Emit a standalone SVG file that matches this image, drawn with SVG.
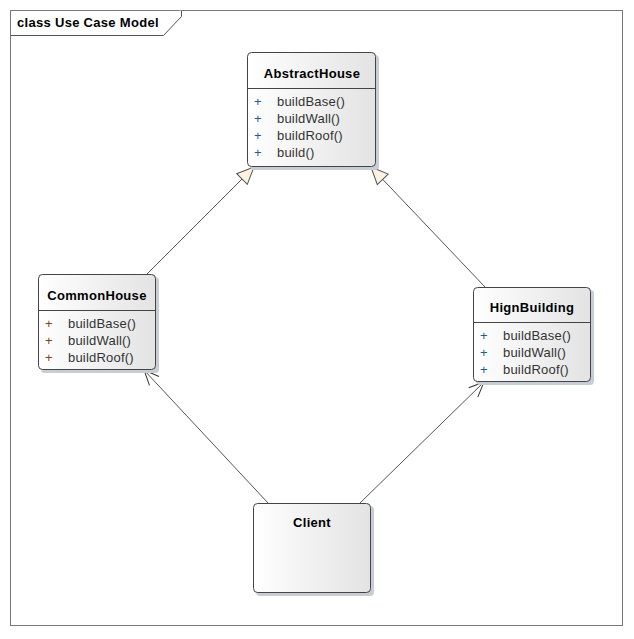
<svg xmlns="http://www.w3.org/2000/svg" width="634" height="639" viewBox="0 0 634 639">
<style>
text{font-family:"Liberation Sans",Arial,sans-serif;font-size:13px;fill:#000;letter-spacing:0.2px}
.t{font-weight:bold;text-anchor:middle;letter-spacing:0.3px}
.p{fill:#1f5a99}
.pb{fill:#8a3b12}
.op{fill:#333}
.box{fill:url(#g);stroke:#444;stroke-width:1}
.sh{fill:#c8ccd4}
.sep{stroke:#444;stroke-width:1}
.c{stroke:#555;stroke-width:1;fill:none}
</style>
<defs>
<linearGradient id="g" x1="0" y1="0" x2="1" y2="0">
<stop offset="0" stop-color="#ffffff"/>
<stop offset="1" stop-color="#e3e3e3"/>
</linearGradient>
<marker id="gen" markerUnits="userSpaceOnUse" markerWidth="40" markerHeight="40" viewBox="-20 -20 40 40" refX="0" refY="0" orient="auto">
<path d="M0,0 L-17,-7.5 L-17,7.5 Z" fill="#fdf3e2" stroke="#555" stroke-width="1"/>
</marker>
<marker id="open" markerUnits="userSpaceOnUse" markerWidth="40" markerHeight="40" viewBox="-20 -20 40 40" refX="0" refY="0" orient="auto">
<path d="M-15,-6.5 L0,0 L-15,6.5" fill="none" stroke="#333" stroke-width="1"/>
</marker>
</defs>
<g id="frame">
<rect x="10.5" y="10.5" width="612" height="615" fill="#fff" stroke="#777"/>
<path d="M10.5,35.5 H163.5 L181.5,16.5 V10.5" fill="#fff" stroke="#555"/>
<text x="17" y="27" style="font-weight:bold;letter-spacing:0.3px">class Use Case Model</text>
</g>
<g id="connectors">
<line class="c" x1="147" y1="274" x2="254" y2="167" marker-end="url(#gen)"/>
<line class="c" x1="485" y1="287" x2="371" y2="167" marker-end="url(#gen)"/>
<line class="c" x1="268" y1="503" x2="144" y2="370" marker-end="url(#open)"/>
<line class="c" x1="360" y1="503" x2="484" y2="382" marker-end="url(#open)"/>
</g>
<g id="AbstractHouse">
<rect class="sh" x="250" y="55" width="129" height="115" rx="4"/>
<rect class="box" x="247.5" y="52.5" width="128" height="114" rx="4"/>
<line class="sep" x1="247.5" y1="88.5" x2="375.5" y2="88.5"/>
<text class="t" x="312" y="78">AbstractHouse</text>
<text class="p" x="254" y="106">+</text><text class="op" x="277" y="106">buildBase()</text>
<text class="p" x="254" y="123">+</text><text class="op" x="277" y="123">buildWall()</text>
<text class="p" x="254" y="140">+</text><text class="op" x="277" y="140">buildRoof()</text>
<text class="p" x="254" y="157">+</text><text class="op" x="277" y="157">build()</text>
</g>
<g id="CommonHouse">
<rect class="sh" x="41" y="277" width="118" height="96" rx="4"/>
<rect class="box" x="38.5" y="274.5" width="117" height="95" rx="4"/>
<line class="sep" x1="38.5" y1="310.5" x2="155.5" y2="310.5"/>
<text class="t" x="97" y="300">CommonHouse</text>
<text class="pb" x="45" y="328">+</text><text class="op" x="68" y="328">buildBase()</text>
<text class="pb" x="45" y="345">+</text><text class="op" x="68" y="345">buildWall()</text>
<text class="pb" x="45" y="362">+</text><text class="op" x="68" y="362">buildRoof()</text>
</g>
<g id="HignBuilding">
<rect class="sh" x="476" y="290" width="118" height="95" rx="4"/>
<rect class="box" x="473.5" y="287.5" width="117" height="94" rx="4"/>
<line class="sep" x1="473.5" y1="322.5" x2="590.5" y2="322.5"/>
<text class="t" x="532" y="312">HignBuilding</text>
<text class="p" x="480" y="340">+</text><text class="op" x="503" y="340">buildBase()</text>
<text class="p" x="480" y="357">+</text><text class="op" x="503" y="357">buildWall()</text>
<text class="p" x="480" y="374">+</text><text class="op" x="503" y="374">buildRoof()</text>
</g>
<g id="Client">
<rect class="sh" x="256" y="506" width="118" height="90" rx="4"/>
<rect class="box" x="253.5" y="503.5" width="117" height="89" rx="4"/>
<text class="t" x="312" y="527">Client</text>
</g>
</svg>
